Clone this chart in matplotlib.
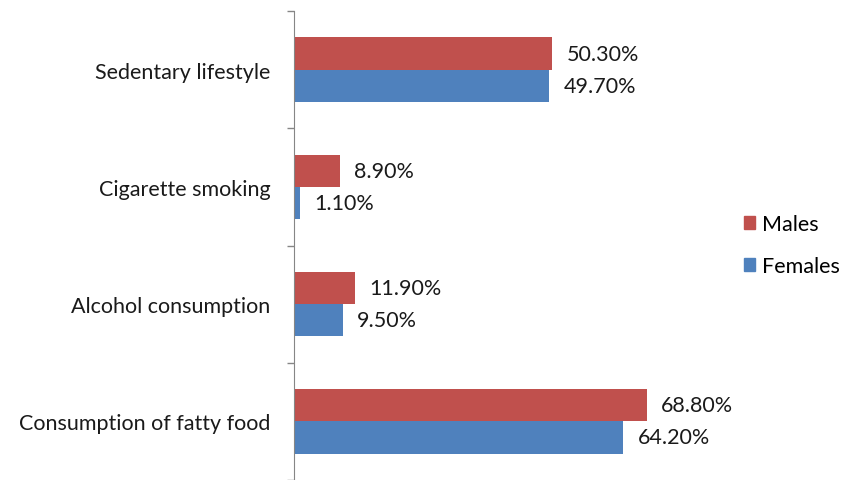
import matplotlib
matplotlib.use("Agg")
import matplotlib.pyplot as plt
from matplotlib.patches import Patch
import numpy as np

categories = ["Consumption of fatty food", "Alcohol consumption", "Cigarette smoking", "Sedentary lifestyle"]
males = [68.8, 11.9, 8.9, 50.3]
females = [64.2, 9.5, 1.1, 49.7]
series_names = ["Males", "Females"]
colors = ["#C0504D", "#4F81BD"]

plt.rcParams['font.family'] = ['Lato', 'DejaVu Sans']

fig = plt.figure(figsize=(8.47, 4.81), dpi=100)
ax = fig.add_axes([294/847, 0.0, 513/847, 1 - 12/481])

y = np.arange(len(categories))
h = 0.275
ax.barh(y + h/2, males, height=h, color=colors[0])
ax.barh(y - h/2, females, height=h, color=colors[1])

for yi, v in zip(y, males):
    ax.text(v + 2.8, yi + h/2, f"{v:.2f}%", va='center', ha='left', fontsize=15.5, color='#1a1a1a')
for yi, v in zip(y, females):
    ax.text(v + 2.8, yi - h/2, f"{v:.2f}%", va='center', ha='left', fontsize=15.5, color='#1a1a1a')

ax.set_xlim(0, 100)
ax.set_ylim(-0.5, len(categories) - 0.5)
ax.set_xticks([])
ax.set_yticks(np.arange(-0.5, len(categories), 1.0))
ax.set_yticklabels([])
ax.tick_params(axis='y', which='major', length=5, color='#868686', width=1)
ax.set_yticks(y, minor=True)
ax.set_yticklabels(categories, minor=True, fontsize=15.5, color='#1a1a1a')
ax.tick_params(axis='y', which='minor', length=0, pad=17)
for s in ['top', 'right', 'bottom']:
    ax.spines[s].set_visible(False)
ax.spines['left'].set_color('#868686')

handles = [Patch(color=c) for c in colors]
fig.legend(handles, series_names, loc='center left', bbox_to_anchor=(735/847, 1 - 246/481),
           frameon=False, fontsize=15.5, handlelength=0.55, handleheight=0.55,
           handletextpad=0.3, labelspacing=1.0, borderaxespad=0)

fig.savefig("out.png", dpi=100)
